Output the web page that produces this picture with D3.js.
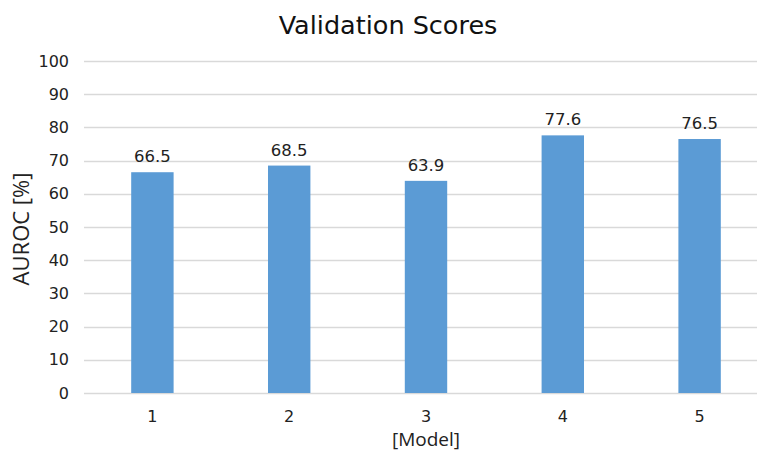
<!DOCTYPE html>
<html>
<head>
<meta charset="utf-8">
<script src="https://cdn.jsdelivr.net/npm/d3@7"></script>
<style>
  body { margin: 0; background: #fff; }
  svg { display: block; }
  .tick text { font-family: "DejaVu Sans", Verdana, sans-serif; font-size: 16px; fill: #222; }
  .bar-label { font-family: "DejaVu Sans", Verdana, sans-serif; font-size: 16.5px; fill: #222; }
  .axis-title { font-family: "Open Sans", sans-serif; font-size: 19px; fill: #222; }
  .y-title { font-size: 22px; }
  .chart-title { font-family: "DejaVu Sans", Verdana, sans-serif; font-size: 25.5px; fill: #111; }
</style>
</head>
<body>
<div id="d3-target"></div>
<script>
const models = ['1', '2', '3', '4', '5'];
const scores = [66.5, 68.5, 63.9, 77.6, 76.5];
const yTicks = [0, 10, 20, 30, 40, 50, 60, 70, 80, 90, 100];

const W = 757, H = 451;
const margin = {top: 61, right: -11, bottom: 58, left: 84},
  width = W - margin.left - margin.right,
  height = H - margin.top - margin.bottom;

const data = models.map((m, i) => ({model: m, score: scores[i]}));

const x = d3.scaleBand()
  .domain(models)
  .range([0, width])
  .paddingInner(0.69)
  .paddingOuter(0.345);

const y = d3.scaleLinear()
  .domain([0, 100])
  .range([height, 0]);

const svgTop = d3.select('#d3-target')
  .append('svg')
  .attr('width', W)
  .attr('height', H);

const svg = svgTop.append('g')
  .attr('transform', `translate(${margin.left},${margin.top})`);

// gridlines
svg.append('g')
  .selectAll('line')
  .data(yTicks)
  .enter().append('line')
    .attr('x1', 0)
    .attr('x2', width)
    .attr('y1', d => Math.round(y(d)) + 0.5)
    .attr('y2', d => Math.round(y(d)) + 0.5)
    .attr('stroke', '#d9d9d9')
    .attr('stroke-width', 1.3);

const yAxis = d3.axisLeft(y)
  .tickValues(yTicks)
  .tickSize(0)
  .tickPadding(15);

svg.append('g')
  .attr('class', 'y axis')
  .call(yAxis)
  .call(g => g.select('.domain').remove());

const xAxis = d3.axisBottom(x)
  .tickSize(0)
  .tickPadding(18);

svg.append('g')
  .attr('class', 'x axis')
  .attr('transform', `translate(0,${height})`)
  .call(xAxis)
  .call(g => g.select('.domain').remove());

svg.selectAll('.bar')
  .data(data)
  .enter().append('rect')
    .attr('class', 'bar')
    .attr('x', d => x(d.model))
    .attr('width', x.bandwidth())
    .attr('y', d => y(d.score))
    .attr('height', d => y(0) - y(d.score))
    .attr('fill', '#5b9bd5');

svg.selectAll('.bar-label')
  .data(data)
  .enter().append('text')
    .attr('class', 'bar-label')
    .attr('x', d => x(d.model) + x.bandwidth() / 2)
    .attr('y', d => y(d.score) - 10)
    .attr('text-anchor', 'middle')
    .text(d => d.score.toFixed(1));

svgTop.append('text')
  .attr('class', 'chart-title')
  .attr('x', 388)
  .attr('y', 34)
  .attr('text-anchor', 'middle')
  .text('Validation Scores');

svgTop.append('text')
  .attr('class', 'axis-title y-title')
  .attr('transform', `translate(29,229) rotate(-90)`)
  .attr('text-anchor', 'middle')
  .text('AUROC [%]');

svgTop.append('text')
  .attr('class', 'axis-title')
  .attr('x', 426)
  .attr('y', 446)
  .attr('text-anchor', 'middle')
  .text('[Model]');
</script>
</body>
</html>
